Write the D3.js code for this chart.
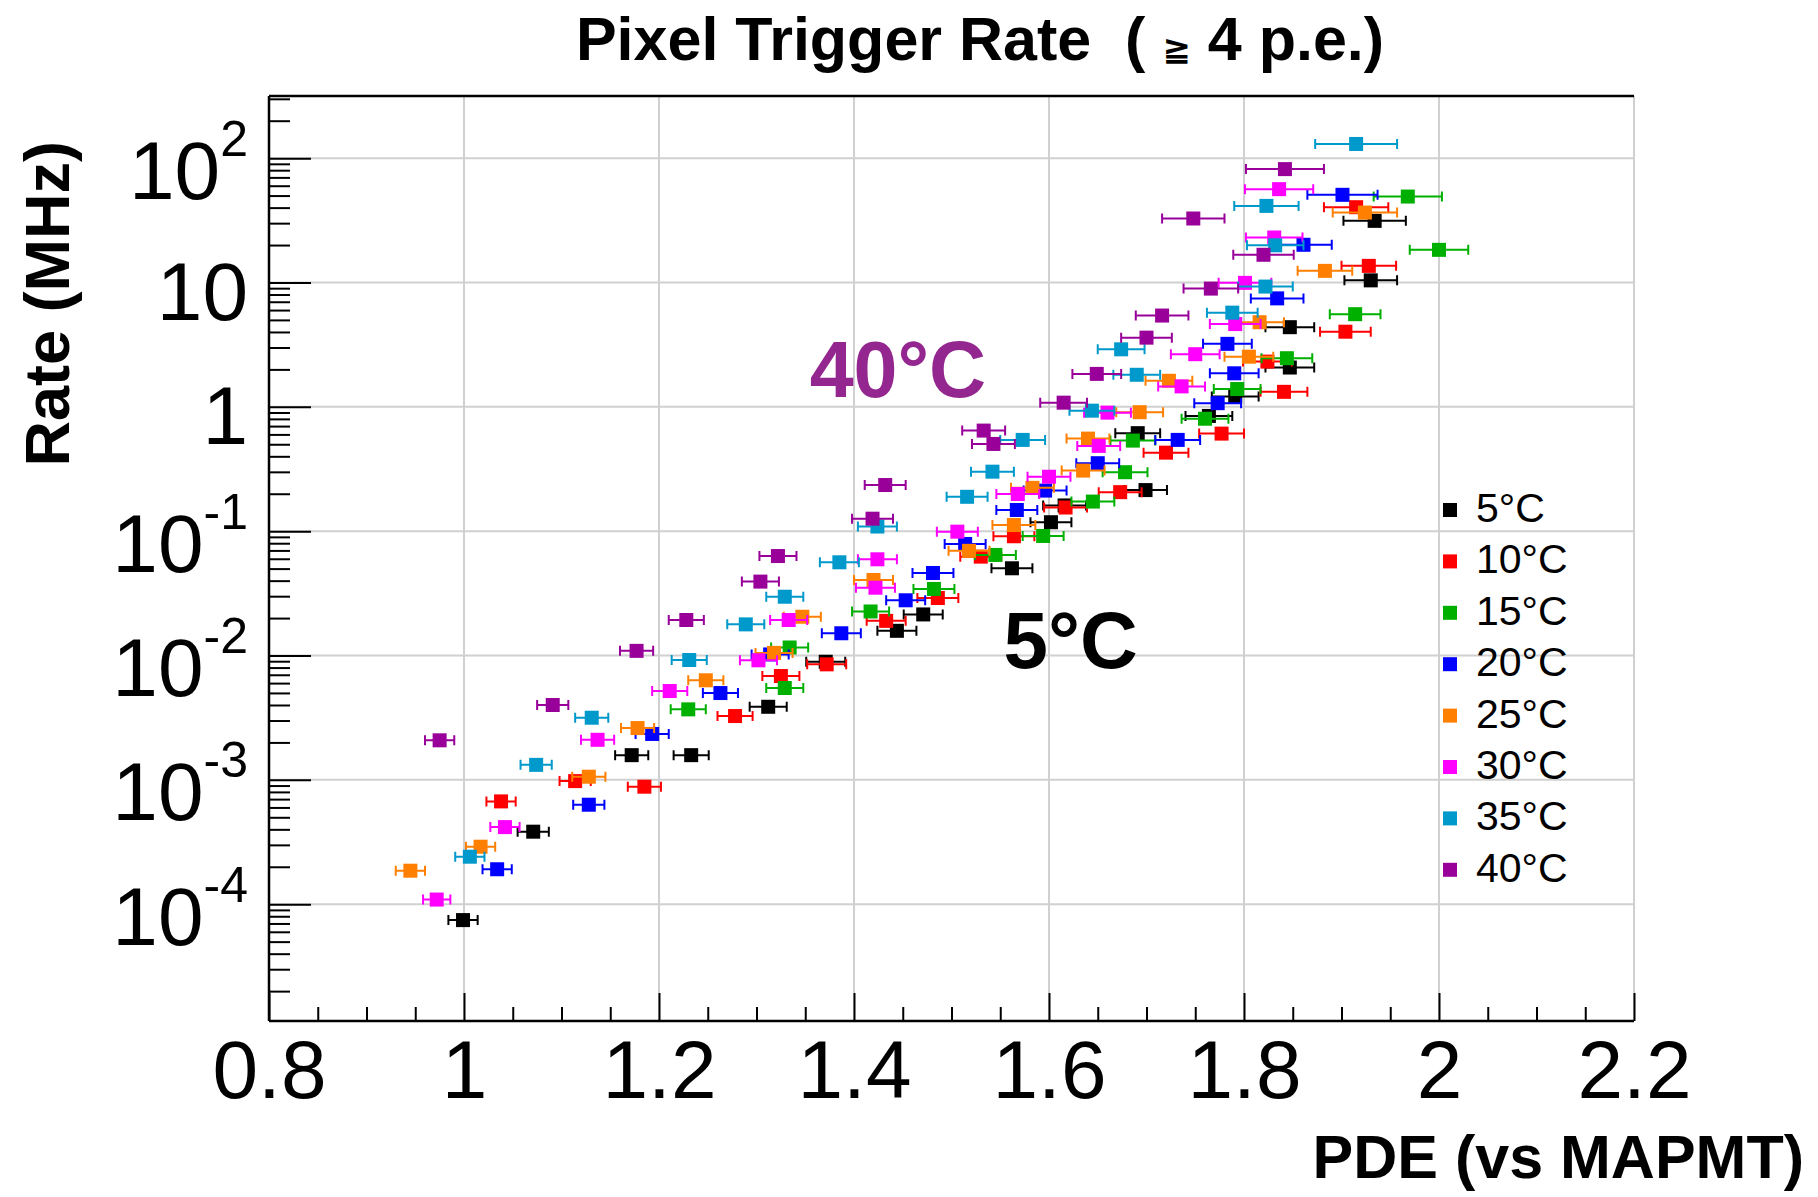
<!DOCTYPE html>
<meta charset="utf-8">

<!-- Load d3.js -->
<script src="https://d3js.org/d3.v7.min.js"></script>

<style>
    body { margin: 0; background: #fff; }
    text { font-family: "Liberation Sans", Arial, Helvetica, sans-serif; }
</style>

<!-- Create a div where the graph will take place -->
<div id="my_dataviz"></div>

<script>
    // ---- data: PDE (x), rate in MHz (y), PDE error ----
    var temps = ["5°C", "10°C", "15°C", "20°C", "25°C", "30°C", "35°C", "40°C"];

    var pde5  = [0.999, 1.071, 1.172, 1.233, 1.312, 1.371, 1.444, 1.471, 1.562, 1.602, 1.616, 1.691, 1.699, 1.764, 1.791, 1.847, 1.847, 1.930, 1.934];
    var rate5 = [7.45e-5, 3.83e-4, 1.58e-3, 1.58e-3, 3.87e-3, 8.91e-3, 0.0158, 0.0214, 0.0503, 0.118, 0.161, 0.614, 0.214, 0.845, 1.21, 2.07, 4.37, 10.4, 31.3];
    var err5  = [.015, .016, .017, .018, .019, .020, .020, .020, .021, .021, .022, .023, .022, .024, .024, .025, .025, .027, .032];

    var pde10  = [1.038, 1.114, 1.185, 1.278, 1.325, 1.372, 1.433, 1.486, 1.530, 1.564, 1.617, 1.673, 1.720, 1.777, 1.824, 1.841, 1.904, 1.928, 1.915];
    var rate10 = [6.71e-4, 9.77e-4, 8.81e-4, 3.26e-3, 6.84e-3, 8.49e-3, 0.0190, 0.0290, 0.0624, 0.0910, 0.155, 0.206, 0.428, 0.609, 2.31, 1.32, 4.02, 13.6, 40.3];
    var err10  = [.015, .016, .017, .018, .019, .020, .020, .021, .021, .021, .022, .022, .023, .023, .025, .024, .026, .028, .033];

    var pde15  = [1.230, 1.329, 1.334, 1.417, 1.482, 1.545, 1.594, 1.645, 1.678, 1.686, 1.760, 1.793, 1.844, 1.914, 2.000, 1.968];
    var rate15 = [3.69e-3, 5.48e-3, 0.0116, 0.0226, 0.0343, 0.0644, 0.0915, 0.173, 0.298, 0.535, 0.802, 1.39, 2.46, 5.56, 18.3, 49.1];
    var err15  = [.018, .019, .019, .019, .021, .021, .021, .022, .023, .023, .024, .024, .026, .026, .030, .035];

    var pde20  = [1.034, 1.128, 1.193, 1.263, 1.314, 1.387, 1.453, 1.481, 1.514, 1.567, 1.596, 1.650, 1.732, 1.773, 1.790, 1.783, 1.834, 1.861, 1.901];
    var rate20 = [1.91e-4, 6.31e-4, 2.34e-3, 4.99e-3, 0.0102, 0.0151, 0.0278, 0.0461, 0.0789, 0.148, 0.212, 0.352, 0.542, 1.07, 1.86, 3.21, 7.45, 20.1, 50.7];
    var err20  = [.015, .016, .017, .018, .019, .020, .020, .021, .021, .021, .022, .022, .023, .024, .025, .025, .027, .029, .036];

    var pde25  = [0.945, 1.017, 1.128, 1.178, 1.248, 1.318, 1.347, 1.420, 1.518, 1.564, 1.583, 1.635, 1.640, 1.693, 1.723, 1.805, 1.816, 1.883, 1.924];
    var rate25 = [1.86e-4, 2.90e-4, 1.06e-3, 2.61e-3, 6.32e-3, 0.0105, 0.0205, 0.0405, 0.0695, 0.112, 0.223, 0.307, 0.555, 0.905, 1.62, 2.53, 4.79, 12.4, 36.5];
    var err25  = [.015, .015, .017, .017, .018, .019, .019, .020, .021, .022, .022, .022, .022, .024, .024, .025, .025, .028, .033];

    var pde30  = [0.972, 1.042, 1.137, 1.211, 1.302, 1.333, 1.422, 1.424, 1.506, 1.568, 1.600, 1.651, 1.660, 1.736, 1.750, 1.791, 1.801, 1.831, 1.836];
    var rate30 = [1.09e-4, 4.17e-4, 2.10e-3, 5.18e-3, 9.15e-3, 0.0193, 0.0351, 0.0594, 0.0991, 0.199, 0.274, 0.485, 0.898, 1.46, 2.65, 4.63, 9.93, 23.0, 56.3];
    var err30  = [.014, .015, .017, .018, .019, .019, .020, .020, .021, .022, .022, .022, .024, .024, .025, .026, .027, .029, .035];

    var pde35  = [1.006, 1.074, 1.131, 1.231, 1.289, 1.329, 1.385, 1.424, 1.516, 1.542, 1.573, 1.644, 1.674, 1.690, 1.788, 1.822, 1.832, 1.823, 1.915];
    var rate35 = [2.41e-4, 1.32e-3, 3.16e-3, 9.2e-3, 0.0178, 0.0297, 0.0562, 0.109, 0.189, 0.301, 0.542, 0.931, 2.90, 1.81, 5.72, 9.27, 19.9, 41.3, 130];
    var err35  = [.015, .016, .017, .018, .019, .019, .020, .020, .021, .022, .023, .023, .024, .024, .026, .028, .029, .033, .042];

    var pde40  = [0.975, 1.091, 1.177, 1.228, 1.304, 1.322, 1.419, 1.432, 1.533, 1.543, 1.615, 1.649, 1.700, 1.716, 1.766, 1.820, 1.748, 1.842];
    var rate40 = [2.08e-3, 4.00e-3, 0.0109, 0.0193, 0.0393, 0.0631, 0.126, 0.235, 0.644, 0.503, 1.08, 1.84, 3.60, 5.42, 8.93, 16.7, 32.7, 81.6];
    var err40  = [.015, .016, .017, .018, .019, .019, .021, .021, .022, .022, .024, .025, .026, .027, .028, .031, .032, .040];

    // axis ticks and labels
    var xTicks = [0.8, 1, 1.2, 1.4, 1.6, 1.8, 2, 2.2];
    var yTicks = [1e-4, 1e-3, 1e-2, 1e-1, 1, 10, 100];
    var yTickBase = ["10", "10", "10", "10", "1", "10", "10"];
    var yTickExp = ["-4", "-3", "-2", "-1", "", "", "2"];

    var colors = ["#000000", "#ff0000", "#00b000", "#0000ff", "#ff7f00", "#ff00ff", "#0099cc", "#990099"];

    var series = [
        [pde5, rate5, err5], [pde10, rate10, err10], [pde15, rate15, err15], [pde20, rate20, err20],
        [pde25, rate25, err25], [pde30, rate30, err30], [pde35, rate35, err35], [pde40, rate40, err40]
    ].map(function(s, i) {
        return {
            label: temps[i],
            color: colors[i],
            points: s[0].map(function(v, j) { return { x: v, y: s[1][j], e: s[2][j] }; })
        };
    });

    // set the dimensions and margins of the graph
    var W = 1818, H = 1197;
    var margin = { top: 96, right: 184, bottom: 176, left: 269 },
        width = W - margin.left - margin.right,
        height = H - margin.top - margin.bottom;

    var root = d3.select("#my_dataviz")
        .append("svg")
        .attr("width", W)
        .attr("height", H);

    var svg = root.append("g")
        .attr("transform", "translate(" + margin.left + "," + margin.top + ")");

    var x = d3.scaleLinear().domain([0.8, 2.2]).range([0, width]);
    var y = d3.scaleLog().domain([1.15e-5, 316]).range([height, 0]);

    // grid
    var grid = svg.append("g").attr("stroke", "#d0d0d0").attr("stroke-width", 2);
    grid.selectAll("vg")
        .data(xTicks.slice(1))
        .enter().append("line")
        .attr("x1", function(d) { return x(d); })
        .attr("x2", function(d) { return x(d); })
        .attr("y1", 0).attr("y2", height);
    grid.selectAll("hg")
        .data(yTicks)
        .enter().append("line")
        .attr("x1", 0).attr("x2", width)
        .attr("y1", function(d) { return y(d); })
        .attr("y2", function(d) { return y(d); });

    // X axis: major ticks with labels
    var xAxis = svg.append("g")
        .attr("transform", "translate(0," + height + ")")
        .call(d3.axisBottom(x).tickValues(xTicks).tickSize(-28).tickPadding(19).tickFormat(d3.format("~g")));
    xAxis.select(".domain").remove();
    xAxis.selectAll("line").attr("stroke", "#000").attr("stroke-width", 2);
    xAxis.selectAll("text")
        .attr("fill", "#000")
        .style("font-size", "82px")
        .style("font-family", "'Liberation Sans', Arial, sans-serif");

    // X axis: minor ticks
    var xMinor = d3.range(16, 45).filter(function(i) { return i % 4 !== 0; }).map(function(i) { return i * 0.05; });
    var xAxisMinor = svg.append("g")
        .attr("transform", "translate(0," + height + ")")
        .call(d3.axisBottom(x).tickValues(xMinor).tickSize(-14).tickFormat(""));
    xAxisMinor.select(".domain").remove();
    xAxisMinor.selectAll("line").attr("stroke", "#000").attr("stroke-width", 2);

    // Y axis: decade ticks with 10^n labels
    var yAxis = svg.append("g")
        .call(d3.axisLeft(y).tickValues(yTicks).tickSize(-42).tickPadding(21));
    yAxis.select(".domain").remove();
    yAxis.selectAll("line").attr("stroke", "#000").attr("stroke-width", 2);
    yAxis.selectAll("text").each(function(d, i) {
        var t = d3.select(this);
        t.text(null)
            .attr("fill", "#000")
            .attr("dy", null)
            .attr("y", yTickExp[i] ? 40 : 37)
            .style("font-family", "'Liberation Sans', Arial, sans-serif")
            .style("font-size", "82px");
        t.append("tspan").text(yTickBase[i]);
        if (yTickExp[i]) {
            t.append("tspan").attr("dy", -43).style("font-size", "50px").text(yTickExp[i]);
        }
    });

    // Y axis: minor ticks 2..9 per decade
    var yMinor = [];
    for (var n = -5; n <= 2; n++) {
        for (var k = 2; k <= 9; k++) {
            var v = k * Math.pow(10, n);
            if (v > 1.15e-5 && v < 316) yMinor.push(v);
        }
    }
    var yAxisMinor = svg.append("g")
        .call(d3.axisLeft(y).tickValues(yMinor).tickSize(-21).tickFormat(""));
    yAxisMinor.select(".domain").remove();
    yAxisMinor.selectAll("line").attr("stroke", "#000").attr("stroke-width", 2);

    // frame: left, bottom, top black
    var frame = svg.append("g").attr("stroke", "#000").attr("stroke-width", 2.5);
    frame.append("line").attr("x1", 0).attr("x2", 0).attr("y1", 0).attr("y2", height);
    frame.append("line").attr("x1", 0).attr("x2", width).attr("y1", height).attr("y2", height);
    frame.append("line").attr("x1", 0).attr("x2", width).attr("y1", 0).attr("y2", 0);

    // data: horizontal error bars with end caps, then square markers
    var cap = 5, ms = 14;
    series.forEach(function(s) {
        var g = svg.append("g").attr("stroke", s.color).attr("fill", s.color);
        g.selectAll("err")
            .data(s.points)
            .enter().append("path")
            .attr("fill", "none")
            .attr("stroke-width", 2)
            .attr("d", function(d) {
                var x0 = x(d.x - d.e), x1 = x(d.x + d.e), yy = y(d.y);
                return "M" + x0 + "," + yy + "H" + x1 +
                    "M" + x0 + "," + (yy - cap) + "V" + (yy + cap) +
                    "M" + x1 + "," + (yy - cap) + "V" + (yy + cap);
            });
        g.selectAll("mk")
            .data(s.points)
            .enter().append("rect")
            .attr("stroke", "none")
            .attr("x", function(d) { return x(d.x) - ms / 2; })
            .attr("y", function(d) { return y(d.y) - ms / 2; })
            .attr("width", ms)
            .attr("height", ms);
    });

    // annotations
    svg.append("text")
        .attr("x", x(1.3545)).attr("y", y(1.19))
        .attr("fill", "#93278f")
        .style("font-size", "79px").style("font-weight", "bold")
        .text("40°C");
    svg.append("text")
        .attr("x", x(1.5534)).attr("y", y(7.89e-3))
        .attr("fill", "#000")
        .style("font-size", "80px").style("font-weight", "bold")
        .text("5°C");

    // legend
    var legend = root.append("g");
    series.forEach(function(s, i) {
        var cy = 510 + i * 51.4;
        legend.append("rect")
            .attr("x", 1443).attr("y", cy - 7)
            .attr("width", 14).attr("height", 14)
            .attr("fill", s.color);
        legend.append("text")
            .attr("x", 1476).attr("y", cy + 12)
            .style("font-size", "41px")
            .attr("fill", "#000")
            .text(s.label);
    });

    // titles
    var title = root.append("text")
        .attr("x", 980).attr("y", 60)
        .attr("text-anchor", "middle")
        .style("font-size", "61px").style("font-weight", "bold")
        .style("white-space", "pre");
    title.append("tspan").text("Pixel Trigger Rate  ( ");
    title.append("tspan").style("font-size", "34px").style("font-family", "'DejaVu Sans', sans-serif").text("≧");
    title.append("tspan").text(" 4 p.e.)");

    root.append("text")
        .attr("x", 1804).attr("y", 1178)
        .attr("text-anchor", "end")
        .style("font-size", "61px").style("font-weight", "bold")
        .text("PDE (vs MAPMT)");

    root.append("text")
        .attr("transform", "translate(69,141) rotate(-90)")
        .attr("text-anchor", "end")
        .style("font-size", "63px").style("font-weight", "bold")
        .text("Rate (MHz)");
</script>
